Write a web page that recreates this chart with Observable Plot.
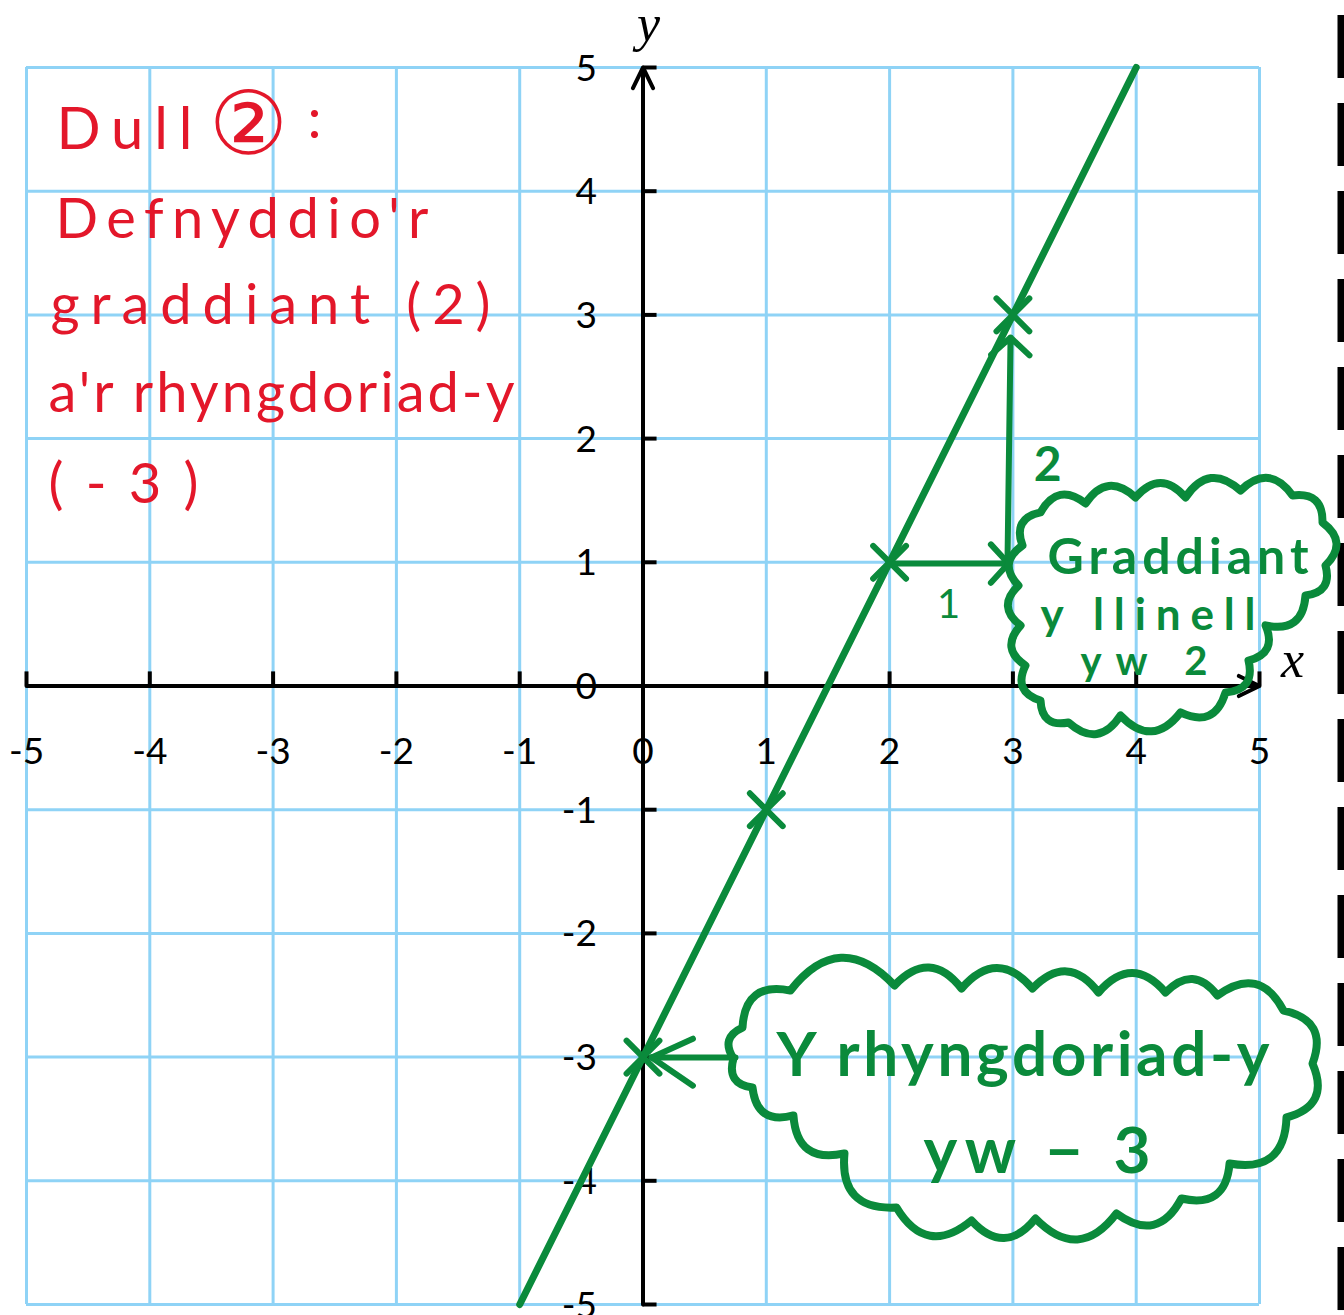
<!DOCTYPE html>
<html>
<head>
<meta charset="utf-8">
<script src="https://cdn.jsdelivr.net/npm/d3@7"></script>
<script src="https://cdn.jsdelivr.net/npm/@observablehq/plot@0.6"></script>
<style>
html, body { margin: 0; padding: 0; background: #fff; overflow: hidden; }
#chart svg { display: block; }
</style>
</head>
<body>
<div id="chart"></div>
<script>
// ---------- data ----------
const gridValues = [-5, -4, -3, -2, -1, 0, 1, 2, 3, 4, 5];
const xTickLabels = ["-5", "-4", "-3", "-2", "-1", "0", "1", "2", "3", "4", "5"];
const yTickLabels = ["-5", "-4", "-3", "-2", "-1", "0", "1", "2", "3", "4", "5"];
const axisExtent = [-5, 5];

// the straight line (end points)
const lineX = [-1, 4];
const lineY = [-5, 5];

// plotted crosses
const pointX = [0, 1, 2, 3];
const pointY = [-3, -1, 1, 3];

// gradient triangle arrows: [start, tip]
const runArrowX = [2.04, 2.964];
const runArrowY = [0.99, 0.99];
const riseArrowX = [2.956, 2.981];
const riseArrowY = [0.99, 2.817];
const runLabel = "1";
const runLabelPos = [2.478, 0.546];
const riseLabel = "2";
const riseLabelPos = [3.281, 1.661];

// arrow to the y-intercept: shaft and hand-drawn head
const interceptShaftX = [0.75, 0.07];
const interceptShaftY = [-3.003, -3.003];
const interceptWingX = [0.405, 0.405];
const interceptWingY = [-2.851, -3.231];

// cloud outlines (perimeter vertices, axis units)
const cloudGradX = [3.078, 3.224, 3.589, 3.994, 4.400, 4.846, 5.268, 5.511, 5.535, 5.373, 5.049, 4.911, 4.724, 4.359, 3.873, 3.451, 3.224, 3.102, 3.062, 3.045];
const cloudGradY = [1.136, 1.403, 1.476, 1.524, 1.524, 1.580, 1.540, 1.322, 0.974, 0.732, 0.490, 0.206, -0.053, -0.214, -0.238, -0.295, -0.117, 0.166, 0.489, 0.812];
const cloudIntX = [0.734, 0.807, 1.196, 2.040, 2.583, 3.159, 3.694, 4.238, 4.659, 5.195, 5.430, 5.219, 4.757, 4.367, 3.840, 3.183, 2.664, 2.056, 1.634, 1.220, 0.888];
const cloudIntY = [-3.011, -2.761, -2.462, -2.421, -2.446, -2.446, -2.478, -2.478, -2.502, -2.624, -3.052, -3.488, -3.860, -4.143, -4.264, -4.305, -4.321, -4.216, -3.779, -3.472, -3.246];

// cloud texts
const gradCloudLines = ["Graddiant", "y llinell", "yw 2"];
const gradCloudX = [3.281, 3.224, 3.548];
const gradCloudY = [0.909, 0.449, 0.085];
const intCloudLines = ["Y rhyngdoriad-y", "yw − 3"];
const intCloudX = [1.083, 2.275];
const intCloudY = [-3.149, -3.933];

// red note, top left
const noteTitle = "Dull";
const noteTitlePos = [-4.757, 4.345];
const noteNumber = "②";
const noteNumberPos = [-3.20, 4.297];
const noteColon = ":";
const noteColonPos = [-2.72, 4.434];
const noteLines = ["Defnyddio'r", "graddiant (2)", "a'r rhyngdoriad-y", "(-3)"];
const noteLineX = [-4.765, -4.805, -4.821, -4.821];
const noteLineY = [3.618, 2.930, 2.211, 1.483];

// axis titles
const xTitle = "x", xTitlePos = [5.268, 0.069];
const yTitle = "y", yTitlePos = [0.045, 5.218];

// dashed black strip at the right edge
const edgeX = 5.661, edgeTop = 5.42, edgeBottom = -5.2;

// ---------- layout / style ----------
const GREEN = "#0a8a3b", RED = "#e3172a", GRID = "#8fd3f6", INK = "#000";
const tickSize = 0.114;           // tick length in axis units
const fitWidths = {               // rendered widths (px) of handwritten lines
  "Dull": 136,
  "Defnyddio'r": 373, "graddiant (2)": 440, "a'r rhyngdoriad-y": 466, "(-3)": 150,
  "Graddiant": 261, "y llinell": 215, "yw 2": 127,
  "Y rhyngdoriad-y": 493, "yw − 3": 227
};
const gradCloudSizes = [50, 44, 40];
const intCloudSizes = [62, 64];

const pts = (xs, ys) => xs.map((x, i) => ({x, y: ys[i]}));

// scalloped cloud curve: bumps bulging outward between consecutive vertices
function cloudCurve(context) {
  let p = [];
  return {
    areaStart() {}, areaEnd() {},
    lineStart() { p = []; },
    point(x, y) { p.push([+x, +y]); },
    lineEnd() {
      const n = p.length;
      if (!n) return;
      const cx = d3.mean(p, d => d[0]), cy = d3.mean(p, d => d[1]);
      context.moveTo(p[0][0], p[0][1]);
      for (let i = 0; i < n; i++) {
        const a = p[i], b = p[(i + 1) % n];
        const dx = b[0] - a[0], dy = b[1] - a[1];
        const len = Math.hypot(dx, dy) || 1;
        let nx = dy / len, ny = -dx / len;
        const mx = (a[0] + b[0]) / 2, my = (a[1] + b[1]) / 2;
        if (nx * (mx - cx) + ny * (my - cy) < 0) { nx = -nx; ny = -ny; }
        const k = 0.58 * len;
        context.quadraticCurveTo(mx + nx * k, my + ny * k, b[0], b[1]);
      }
      context.closePath();
    }
  };
}

const handFont = "Lato, 'Noto Sans', sans-serif";

const marks = [
  // grid
  Plot.ruleX(gridValues, {x: d => d, stroke: GRID, strokeWidth: 3}),
  Plot.ruleY(gridValues, {y: d => d, stroke: GRID, strokeWidth: 3}),
  // edge strip
  Plot.ruleX([edgeX], {x: d => d, y1: edgeTop, y2: edgeBottom, stroke: INK, strokeWidth: 7, strokeDasharray: "63,25"}),
  // axes with arrows
  Plot.arrow([{x1: axisExtent[0], y1: 0, x2: axisExtent[1], y2: 0}, {x1: 0, y1: axisExtent[0], x2: 0, y2: axisExtent[1]}],
    {x1: "x1", y1: "y1", x2: "x2", y2: "y2", stroke: INK, strokeWidth: 4, headLength: 8.6, headAngle: 52}),
  // ticks
  Plot.ruleX(gridValues, {x: d => d, y1: 0, y2: tickSize, stroke: INK, strokeWidth: 4}),
  Plot.ruleY(gridValues, {y: d => d, x1: 0, x2: tickSize, stroke: INK, strokeWidth: 4}),
  // tick labels
  Plot.text(gridValues, {x: d => d, y: 0, text: (d, i) => xTickLabels[i], dy: 78, lineAnchor: "bottom",
    fontFamily: "Lato, sans-serif", fontSize: 37, fill: INK}),
  Plot.text(gridValues, {x: 0, y: d => d, text: (d, i) => yTickLabels[i], dx: -46, dy: 13, textAnchor: "end", lineAnchor: "bottom",
    fontFamily: "Lato, sans-serif", fontSize: 37, fill: INK}),
  // axis titles
  Plot.text([xTitle], {x: xTitlePos[0], y: xTitlePos[1], text: d => d, lineAnchor: "bottom",
    fontFamily: "'Liberation Serif', 'DejaVu Serif', serif", fontStyle: "italic", fontSize: 52, fill: INK}),
  Plot.text([yTitle], {x: yTitlePos[0], y: yTitlePos[1], text: d => d, lineAnchor: "bottom",
    fontFamily: "'Liberation Serif', 'DejaVu Serif', serif", fontStyle: "italic", fontSize: 52, fill: INK}),
  // the line
  Plot.line(pts(lineX, lineY), {x: "x", y: "y", stroke: GREEN, strokeWidth: 7, strokeLinecap: "round"}),
  // crosses
  Plot.dot(pts(pointX, pointY), {x: "x", y: "y", symbol: "times", r: 15, stroke: GREEN, strokeWidth: 6, strokeLinecap: "round"}),
  // gradient triangle
  Plot.arrow([{x1: runArrowX[0], y1: runArrowY[0], x2: runArrowX[1], y2: runArrowY[1]},
              {x1: riseArrowX[0], y1: riseArrowY[0], x2: riseArrowX[1], y2: riseArrowY[1]}],
    {x1: "x1", y1: "y1", x2: "x2", y2: "y2", stroke: GREEN, strokeWidth: 6, headLength: 6.5, headAngle: 95}),
  Plot.text([runLabel], {x: runLabelPos[0], y: runLabelPos[1], text: d => d, lineAnchor: "bottom",
    fontFamily: handFont, fontSize: 40, fill: GREEN}),
  Plot.text([riseLabel], {x: riseLabelPos[0], y: riseLabelPos[1], text: d => d, lineAnchor: "bottom",
    fontFamily: handFont, fontWeight: "bold", fontSize: 48, fill: GREEN}),
  // intercept arrow
  Plot.link([{x1: interceptShaftX[0], y1: interceptShaftY[0], x2: interceptShaftX[1], y2: interceptShaftY[1]},
             {x1: interceptShaftX[1], y1: interceptShaftY[1], x2: interceptWingX[0], y2: interceptWingY[0]},
             {x1: interceptShaftX[1], y1: interceptShaftY[1], x2: interceptWingX[1], y2: interceptWingY[1]}],
    {x1: "x1", y1: "y1", x2: "x2", y2: "y2", stroke: GREEN, strokeWidth: 6, strokeLinecap: "round"}),
  // clouds
  Plot.line(pts(cloudGradX, cloudGradY), {x: "x", y: "y", curve: cloudCurve, stroke: GREEN, strokeWidth: 8, strokeLinejoin: "round", fill: "none"}),
  Plot.line(pts(cloudIntX, cloudIntY), {x: "x", y: "y", curve: cloudCurve, stroke: GREEN, strokeWidth: 8, strokeLinejoin: "round", fill: "none"}),
  // cloud texts
  ...gradCloudLines.map((t, i) => Plot.text([t], {x: gradCloudX[i], y: gradCloudY[i], text: d => d, textAnchor: "start", lineAnchor: "bottom",
    fontFamily: handFont, fontWeight: "bold", fontSize: gradCloudSizes[i], fill: GREEN})),
  ...intCloudLines.map((t, i) => Plot.text([t], {x: intCloudX[i], y: intCloudY[i], text: d => d, textAnchor: "start", lineAnchor: "bottom",
    fontFamily: handFont, fontWeight: "bold", fontSize: intCloudSizes[i], fill: GREEN})),
  // red note
  Plot.text([noteTitle], {x: noteTitlePos[0], y: noteTitlePos[1], text: d => d, textAnchor: "start", lineAnchor: "bottom",
    fontFamily: handFont, fontSize: 58, fill: RED}),
  Plot.text([noteNumber], {x: noteNumberPos[0], y: noteNumberPos[1], text: d => d, textAnchor: "middle", lineAnchor: "bottom",
    fontFamily: "'DejaVu Sans', sans-serif", fontSize: 88, fill: RED}),
  Plot.text([noteColon], {x: noteColonPos[0], y: noteColonPos[1], text: d => d, textAnchor: "start", lineAnchor: "bottom",
    fontFamily: handFont, fontSize: 56, fill: RED}),
  Plot.text(noteLines, {x: (d, i) => noteLineX[i], y: (d, i) => noteLineY[i], text: d => d, textAnchor: "start", lineAnchor: "bottom",
    fontFamily: handFont, fontSize: 56, fill: RED})
];

const chart = Plot.plot({
  width: 1344,
  height: 1315,
  marginLeft: 26,
  marginRight: 85,
  marginTop: 67,
  marginBottom: 11,
  x: {domain: [-5, 5], axis: null},
  y: {domain: [-5, 5], axis: null},
  style: {background: "white", overflow: "visible"},
  marks
});

// stretch handwritten lines to the widths seen in the picture
chart.querySelectorAll("text").forEach(el => {
  const w = fitWidths[el.textContent];
  if (w) {
    el.setAttribute("textLength", w);
    el.setAttribute("lengthAdjust", "spacing");
  }
});

document.getElementById("chart").appendChild(chart);
</script>
</body>
</html>
